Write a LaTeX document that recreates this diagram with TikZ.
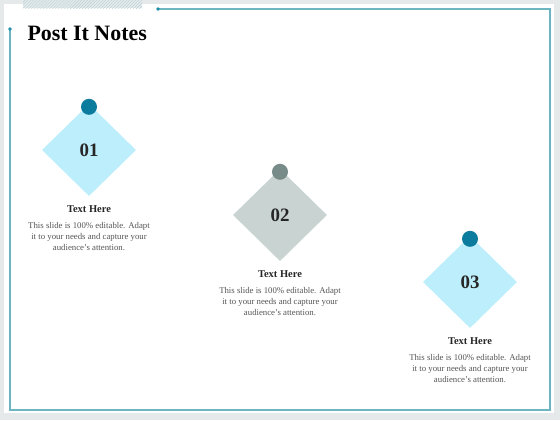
\documentclass[tikz,border=0pt]{standalone}
\usepackage{fontspec}
\setmainfont{Liberation Serif}
\usetikzlibrary{shapes.geometric,patterns}
\definecolor{pagegrey}{HTML}{E5E9EA}
\definecolor{framecol}{HTML}{6DB6C1}
\definecolor{dotcol}{HTML}{1E8FAB}
\definecolor{hatchcol}{HTML}{B9CDD3}
\definecolor{noteblue}{HTML}{BDEEFB}
\definecolor{pinblue}{HTML}{0B7C9E}
\definecolor{notegrey}{HTML}{C9D4D2}
\definecolor{pingrey}{HTML}{778C89}
\definecolor{headcol}{HTML}{262626}
\definecolor{bodycol}{HTML}{555555}

\begin{document}
\begin{tikzpicture}[x=1bp,y=-1bp,
	note/.style={diamond, aspect=1, inner sep=0pt, minimum width=94bp, minimum height=92bp,
		font=\fontsize{19}{20}\bfseries, text=headcol},
	pin/.style={circle, inner sep=0pt, minimum size=16bp},
	head/.style={anchor=base, font=\fontsize{10.5}{12}\bfseries, text=headcol},
	body/.style={anchor=base, align=center, font=\fontsize{8.8}{11}\selectfont, text=bodycol}]
	\def\gap{62}
	\useasboundingbox (0,0) rectangle (560,420);
	\fill[pagegrey] (0,0) rectangle (560,420);
	\fill[white] (4,4) rectangle (554,413);
	\fill[hatchcol!40] (23,0) rectangle (142,8);
	\fill[pattern=north east lines, pattern color=hatchcol] (23,0) rectangle (142,8);

	% frame
	\draw[framecol, line width=1.1bp] (158,9) -- (550,9) -- (550,410) -- (10,410) -- (10,29);
	\fill[dotcol] (158,9) circle[radius=1.9];
	\fill[dotcol] (10,29) circle[radius=1.9];

	\node[anchor=base west, font=\fontsize{22}{24}\bfseries, text=black] (title) at (24,40) {Post It Notes};

	\foreach \i/\x/\y/\fc/\pc in {1/89/150/noteblue/pinblue, 2/280/215/notegrey/pingrey, 3/470/282/noteblue/pinblue}{
		\node[note, fill=\fc] (note\i) at (\x,\y) {0\i};
		\node[pin, fill=\pc] (pin\i) at ([yshift=-3bp]note\i.north) {};
		\node[head] (head\i) at (\x,\y+\gap) {Text Here};
		% base of a multi-line node sits on its last line
		\node[body] (body\i) at (\x,\y+\gap+38) {This slide is 100\% editable. Adapt\\it to your needs and capture your\\audience's attention.};
	}
\end{tikzpicture}
\end{document}
